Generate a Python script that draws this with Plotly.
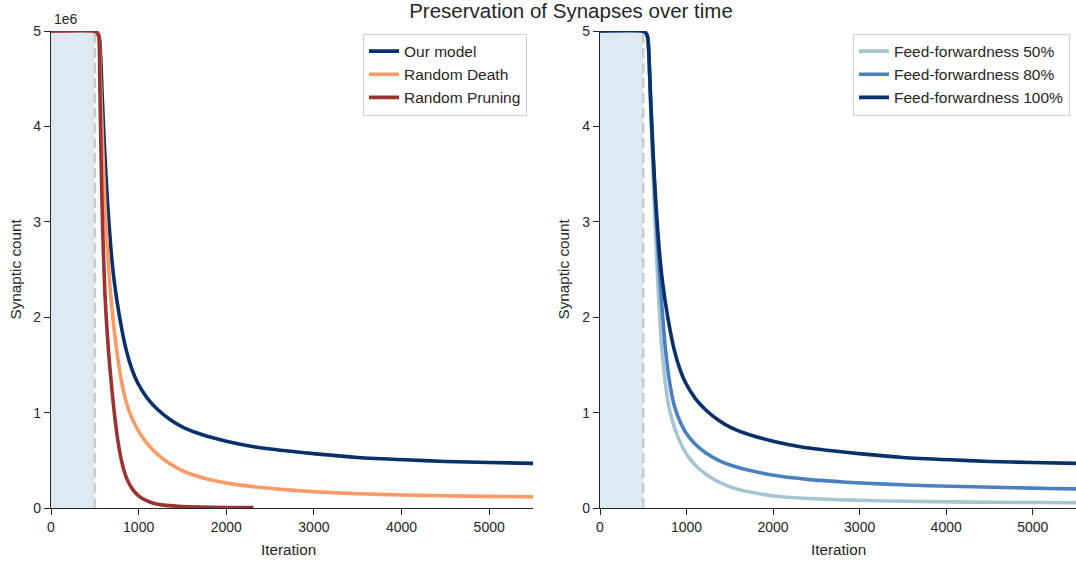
import plotly.graph_objects as go

# ---------------- data ----------------
ITER_OUR = [0, 490, 530, 552, 568, 585, 612, 645, 685, 725, 783, 857, 925, 990, 1100, 1220, 1370,
            1520, 1720, 2000, 2330, 2680, 3050, 3500, 4040, 4500, 5000, 5500]
OUR_MODEL = [5.0, 5.0, 4.98, 4.93, 4.7, 4.3, 3.75, 3.2, 2.70, 2.35, 2.0, 1.66, 1.45, 1.31, 1.15, 1.03, 0.92,
             0.84, 0.77, 0.70, 0.64, 0.60, 0.565, 0.53, 0.505, 0.488, 0.477, 0.468]

ITER_DEATH = [0, 490, 528, 548, 560, 574, 592, 615, 645, 675, 705, 755, 808, 862, 915, 1030, 1160,
              1300, 1480, 1680, 1900, 2120, 2400, 2700, 3050, 3500, 4000, 4500, 5000, 5500]
RANDOM_DEATH = [5.0, 5.0, 4.98, 4.93, 4.6, 4.2, 3.75, 3.2, 2.70, 2.3, 2.0, 1.62, 1.31, 1.1, 0.96, 0.76, 0.61,
                0.50, 0.40, 0.33, 0.28, 0.245, 0.215, 0.19, 0.168, 0.15, 0.137, 0.128, 0.122, 0.117]

ITER_PRUNE = [0, 490, 528, 546, 556, 570, 582, 597, 613, 630, 658, 688, 722, 750, 782, 822, 868, 935,
              1010, 1085, 1170, 1280, 1450, 1700, 2000, 2310]
RANDOM_PRUNING = [5.0, 5.0, 4.98, 4.94, 4.5, 3.75, 3.2, 2.7, 2.3, 2.0, 1.62, 1.31, 1.0, 0.79, 0.6, 0.43,
                  0.30, 0.19, 0.12, 0.08, 0.05, 0.03, 0.018, 0.01, 0.006, 0.005]

ITER_FF100 = ITER_OUR
FF_100 = OUR_MODEL

ITER_FF80 = [0, 490, 530, 552, 567, 583, 610, 640, 672, 700, 725, 757, 806, 850, 900, 985, 1090, 1220,
             1370, 1540, 1750, 2030, 2400, 2850, 3300, 3800, 4300, 4800, 5200, 5500]
FF_80 = [5.0, 5.0, 4.98, 4.93, 4.7, 4.3, 3.75, 3.2, 2.7, 2.3, 2.0, 1.66, 1.31, 1.1, 0.96, 0.8, 0.68, 0.58,
         0.50, 0.44, 0.39, 0.34, 0.30, 0.27, 0.25, 0.233, 0.222, 0.212, 0.205, 0.20]

ITER_FF50 = [0, 490, 530, 552, 566, 581, 602, 625, 650, 672, 690, 715, 755, 788, 822, 885, 970, 1060,
             1160, 1280, 1400, 1540, 1720, 1900, 2100, 2400, 2750, 3100, 3550, 4050, 4550, 5050, 5500]
FF_50 = [5.0, 5.0, 4.98, 4.93, 4.7, 4.3, 3.75, 3.2, 2.7, 2.3, 2.0, 1.66, 1.31, 1.1, 0.96, 0.78, 0.61, 0.49,
         0.40, 0.32, 0.26, 0.21, 0.17, 0.14, 0.118, 0.10, 0.087, 0.078, 0.07, 0.064, 0.06, 0.057, 0.055]

SCALE = 1e6
Y_TICKS = [0, 1, 2, 3, 4, 5]
X_TICKS = [0, 1000, 2000, 3000, 4000, 5000]
WARMUP_END = 500

# ---------------- styling ----------------
FONT = "Liberation Sans, Arial, sans-serif"
TXT = "#262626"
C_OUR = "#08306b"
C_DEATH = "#fc9a66"
C_PRUNE = "#9b3333"
C_FF50 = "#a6c5d3"
C_FF80 = "#4a7fc0"
C_FF100 = "#08306b"
LW = 3.6

fig = go.Figure()

def add_line(x, y, name, color, xa, ya, legend):
    fig.add_trace(go.Scatter(
        x=x, y=[v * SCALE for v in y], mode="lines", name=name,
        line=dict(color=color, width=LW, shape="spline", smoothing=0.6),
        xaxis=xa, yaxis=ya, legend=legend))

add_line(ITER_OUR, OUR_MODEL, "Our model", C_OUR, "x", "y", "legend")
add_line(ITER_DEATH, RANDOM_DEATH, "Random Death", C_DEATH, "x", "y", "legend")
add_line(ITER_PRUNE, RANDOM_PRUNING, "Random Pruning", C_PRUNE, "x", "y", "legend")

add_line(ITER_FF50, FF_50, "Feed-forwardness 50%", C_FF50, "x2", "y2", "legend2")
add_line(ITER_FF80, FF_80, "Feed-forwardness 80%", C_FF80, "x2", "y2", "legend2")
add_line(ITER_FF100, FF_100, "Feed-forwardness 100%", C_FF100, "x2", "y2", "legend2")

for xr, yr in (("x", "y"), ("x2", "y2")):
    fig.add_shape(type="rect", xref=xr, yref=yr + " domain", x0=0, x1=WARMUP_END, y0=0, y1=1,
                  fillcolor="#dce8f2", line=dict(width=0), layer="below")
    fig.add_shape(type="line", xref=xr, yref=yr + " domain", x0=WARMUP_END, x1=WARMUP_END, y0=0, y1=1,
                  line=dict(color="#cccccc", width=2.6, dash="10px,5px"), layer="below")

ydom = [1 - 508 / 563, 1 - 31 / 563]
xdom1 = [51 / 1076, 533 / 1076]
xdom2 = [600 / 1076, 1.0]

xcommon = dict(range=[0, 5500], tickvals=X_TICKS, ticks="outside", ticklen=6, tickwidth=1.2,
               tickcolor=TXT, showline=True, linecolor=TXT, linewidth=1.2, showgrid=False,
               zeroline=False, tickfont=dict(size=14, color=TXT, family=FONT), automargin=False)
ycommon = dict(range=[0, 5 * SCALE], tickvals=[t * SCALE for t in Y_TICKS],
               ticktext=[str(t) for t in Y_TICKS], ticks="outside", ticklen=6, tickwidth=1.2,
               tickcolor=TXT, showline=True, linecolor=TXT, linewidth=1.2, showgrid=False,
               zeroline=False, tickfont=dict(size=14, color=TXT, family=FONT), automargin=False,
               domain=ydom)

legend_style = dict(bgcolor="rgba(255,255,255,0.9)", bordercolor="#d0d0d0", borderwidth=1,
                    font=dict(size=15.5, color=TXT, family=FONT), xanchor="right", yanchor="top",
                    tracegroupgap=0, itemwidth=30)

fig.update_layout(
    width=1076, height=563,
    margin=dict(l=0, r=0, t=0, b=0),
    paper_bgcolor="white", plot_bgcolor="white",
    font=dict(family=FONT, color=TXT),
    title=dict(text="Preservation of Synapses over time", x=571 / 1076, xanchor="center",
               y=1 - 11 / 563, yanchor="middle", font=dict(size=20.5, color=TXT, family=FONT)),
    xaxis=dict(domain=xdom1, anchor="y", **xcommon),
    xaxis2=dict(domain=xdom2, anchor="y2", **xcommon),
    yaxis=dict(anchor="x", **ycommon),
    yaxis2=dict(anchor="x2", **ycommon),
    legend=dict(x=527 / 1076, y=1 - 33.5 / 563, **legend_style),
    legend2=dict(x=1070 / 1076, y=1 - 33.5 / 563, **legend_style),
    showlegend=True,
)

annots = [
    dict(text="1e6", x=52 / 1076, y=1 - 19 / 563, xanchor="left", yanchor="middle", size=14),
    dict(text="Synaptic count", x=15 / 1076, y=(ydom[0] + ydom[1]) / 2, textangle=-90,
         xanchor="center", yanchor="middle", size=15.3),
    dict(text="Synaptic count", x=563 / 1076, y=(ydom[0] + ydom[1]) / 2, textangle=-90,
         xanchor="center", yanchor="middle", size=15.3),
    dict(text="Iteration", x=(xdom1[0] + xdom1[1]) / 2 - 4 / 1076, y=1 - 549 / 563, xanchor="center",
         yanchor="middle", size=15.3),
    dict(text="Iteration", x=(xdom2[0] + xdom2[1]) / 2, y=1 - 549 / 563, xanchor="center",
         yanchor="middle", size=15.3),
]
for a in annots:
    size = a.pop("size")
    fig.add_annotation(xref="paper", yref="paper", showarrow=False,
                       font=dict(size=size, color=TXT, family=FONT), **a)

fig.write_html("out.html", config={"displayModeBar": False},
               post_script="document.body.style.margin='0px';")
